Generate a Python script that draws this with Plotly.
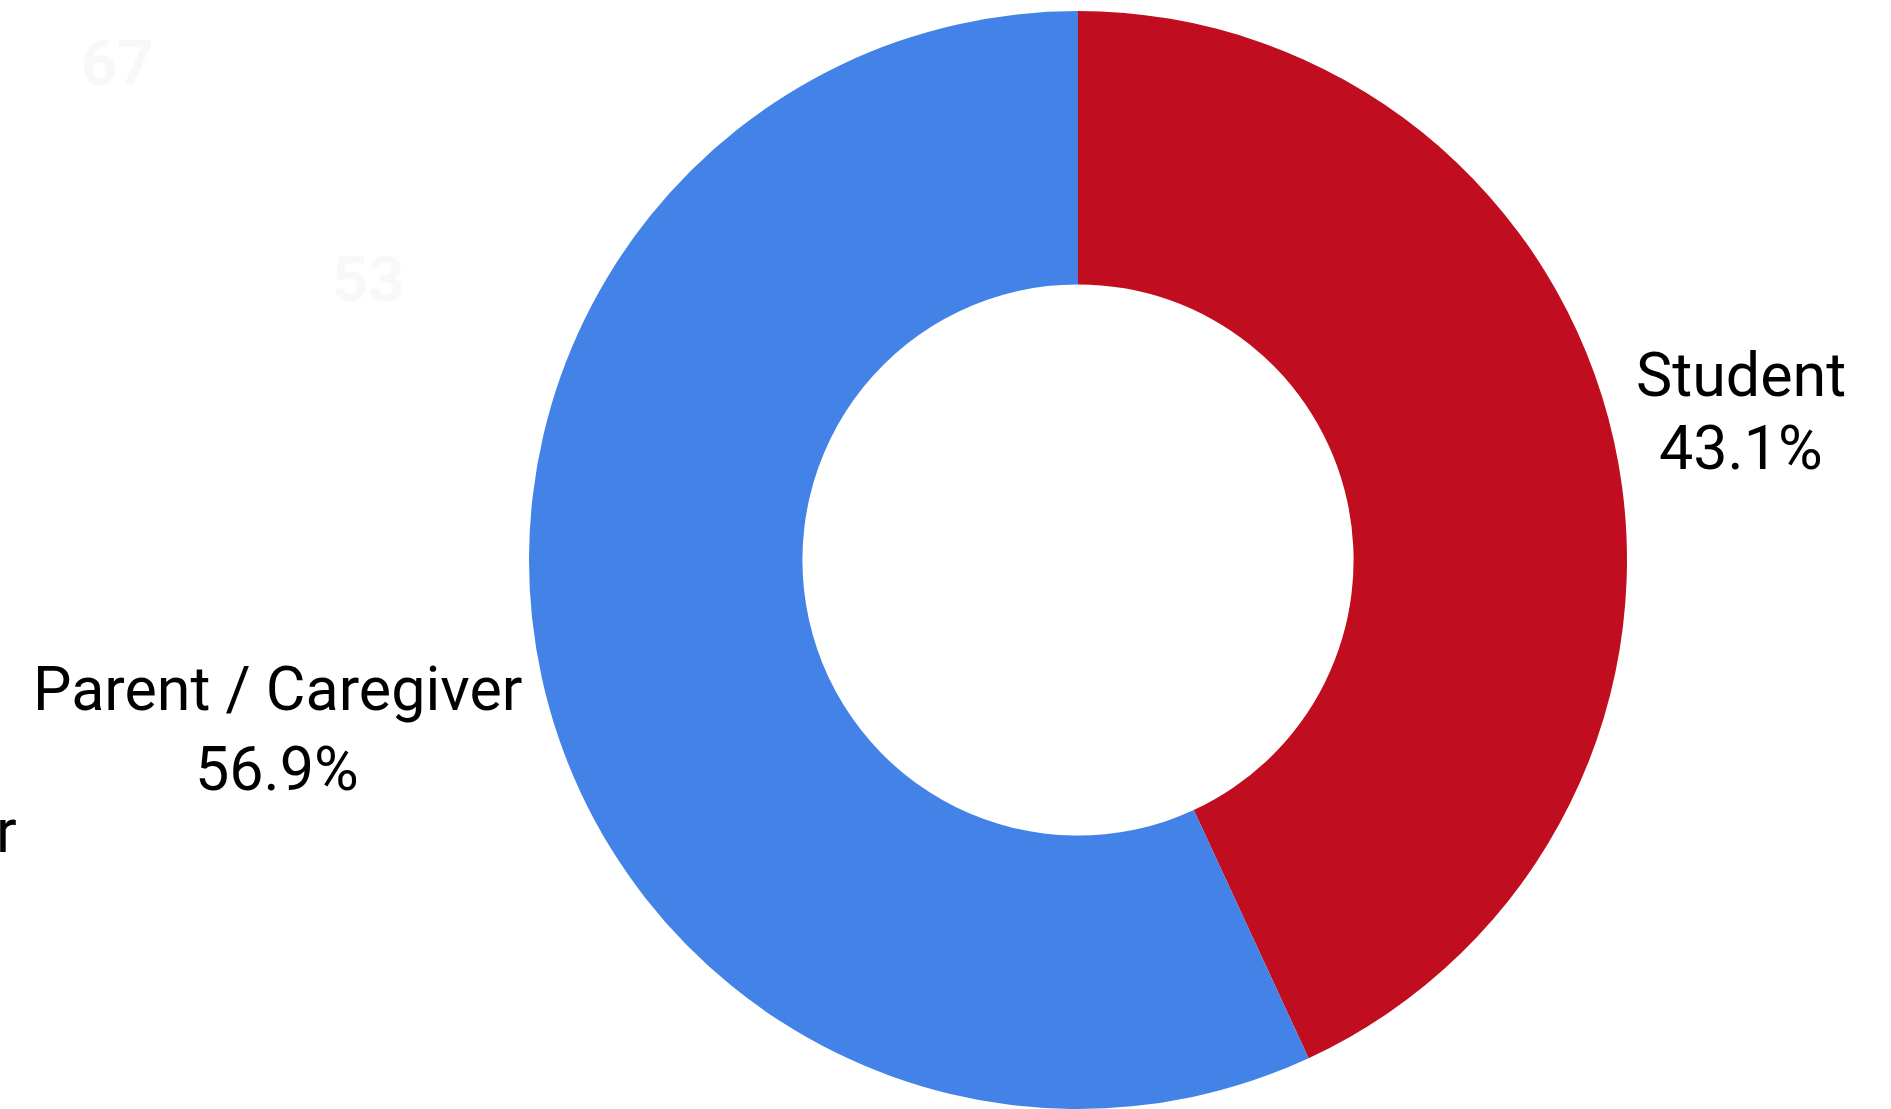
import plotly.graph_objects as go

# Respondent roles
roles = ["Student", "Parent / Caregiver"]
shares = [43.1, 56.9]
colors = ["#c00d1f", "#4383e8"]

# Faint background figures and a clipped neighbouring label
ghost_numbers = ["67", "53"]
clipped_label = "r"

W, H = 1891, 1109
cx, cy, r = 1078, 560, 549


def px(x):
    return x / W


def py(y):
    return 1 - y / H


fig = go.Figure()
fig.add_trace(go.Pie(
    labels=roles,
    values=shares,
    marker=dict(colors=colors, line=dict(width=0)),
    hole=0.502,
    sort=False,
    direction="clockwise",
    rotation=0,
    textinfo="none",
    hoverinfo="label+percent",
    showlegend=False,
    domain=dict(x=[px(cx - r), px(cx + r)], y=[py(cy + r), py(cy - r)]),
))

font = dict(family="Roboto", size=61, color="#000000")

# Outside labels: name line and percentage line
label_pos = {
    "Student": (1741, 375, 448),
    "Parent / Caregiver": (277, 689, 769),
}
for name, val in zip(roles, shares):
    x, y1, y2 = label_pos[name]
    fig.add_annotation(text=name, x=px(x), y=py(y1), xref="paper", yref="paper",
                       xanchor="center", yanchor="middle", showarrow=False, font=font)
    fig.add_annotation(text=f"{val}%", x=px(x), y=py(y2), xref="paper", yref="paper",
                       xanchor="center", yanchor="middle", showarrow=False, font=font)

fig.add_annotation(text=clipped_label, x=px(19), y=py(831), xref="paper", yref="paper",
                   xanchor="right", yanchor="middle", showarrow=False, font=font)

ghost_font = dict(family="Roboto", size=63, color="#f8f8f8", weight="bold")
for txt, (gx, gy) in zip(ghost_numbers, [(117, 64), (368, 279)]):
    fig.add_annotation(text=f"<b>{txt}</b>", x=px(gx), y=py(gy), xref="paper", yref="paper",
                       xanchor="center", yanchor="middle", showarrow=False, font=ghost_font)

fig.update_layout(
    width=W, height=H,
    margin=dict(l=0, r=0, t=0, b=0),
    paper_bgcolor="white",
    plot_bgcolor="white",
)

fig.write_html("out.html")
